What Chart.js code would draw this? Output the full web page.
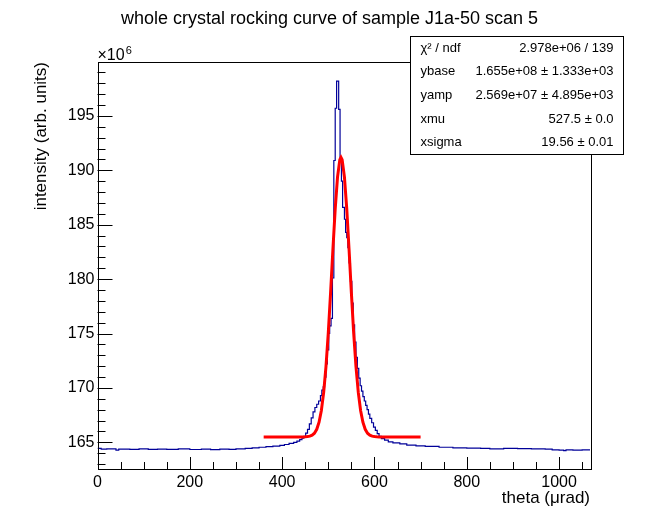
<!DOCTYPE html>
<html>
<head>
<meta charset="utf-8">
<script src="https://cdn.jsdelivr.net/npm/chart.js@4.4.1/dist/chart.umd.min.js"></script>
<style>
  html, body { margin: 0; padding: 0; background: #fff; }
  #wrap { width: 656px; height: 522px; position: relative; }
</style>
</head>
<body>
<div id="wrap"><canvas id="c" width="656" height="522"></canvas></div>
<script>
// ---- data (intensity in units of 1e6) ----
const chartTitle = 'whole crystal rocking curve of sample J1a-50 scan 5';
const xTitle = 'theta (\u03bcrad)';
const yTitle = 'intensity (arb. units)';
const xMin = 0, xMax = 1067;
const yMin = 162.55, yMax = 199.95;
const xTicks = [0, 200, 400, 600, 800, 1000];
const yTicks = [165, 170, 175, 180, 185, 190, 195];
const xMinorStep = 50;
const yMinorStep = 1;

// measured histogram: bin left edge (urad) and content
const histX = [0, 8, 20, 40, 46, 70, 90, 110, 130, 150, 175, 200, 225, 245, 265, 285, 300, 320, 335, 350,
  365, 380, 395, 405, 415, 425, 432, 438, 443, 447, 451, 455, 459, 463, 467, 471, 475, 479, 483, 486,
  489, 492, 495, 498, 501, 503, 506, 509, 512, 515, 518, 522.5, 525.5, 528.5, 531, 535, 537.5, 540, 542.5, 545,
  548, 551, 554, 557, 560, 563, 566, 569, 572, 575, 578, 581, 584, 587, 590, 594, 598, 602, 606, 610,
  615, 622, 630, 640, 655, 670, 690, 710, 740, 770, 800, 830, 850, 880, 910, 940, 970, 985, 1000, 1010,
  1015, 1030, 1050, 1067];
const histY = [164.45, 164.38, 164.40, 164.28, 164.38, 164.36, 164.40, 164.35, 164.38, 164.36, 164.40, 164.34, 164.37, 164.33, 164.38, 164.36, 164.40, 164.45, 164.50, 164.55,
  164.60, 164.65, 164.72, 164.80, 164.90, 165.00, 165.12, 165.25, 165.38, 165.55, 165.85, 166.20, 166.70, 167.25, 167.80, 168.20, 168.50, 168.80, 169.30, 169.80,
  170.10, 171.00, 172.20, 173.50, 175.00, 175.70, 176.40, 180.10, 190.90, 195.70, 198.20, 195.60, 191.10, 189.00, 186.60, 185.50, 184.30, 183.80, 182.90, 181.50,
  179.80, 177.80, 175.80, 174.20, 172.80, 171.80, 170.90, 170.20, 169.70, 169.20, 168.80, 168.40, 168.00, 167.60, 167.20, 166.80, 166.40, 166.10, 165.80, 165.55,
  165.35, 165.20, 165.05, 164.95, 164.85, 164.75, 164.68, 164.62, 164.55, 164.50, 164.46, 164.45, 164.40, 164.44, 164.42, 164.40, 164.38, 164.30, 164.28, 164.24,
  164.30, 164.28, 164.30, 164.30];

// fit curve as drawn (red)
const fitX = [360, 440, 445, 450, 455, 460, 465, 470, 475, 480, 485, 490, 495, 500, 505, 510, 515, 520, 525, 527.5,
  530, 535, 540, 545, 550, 555, 560, 565, 570, 575, 580, 585, 590, 595, 600, 605, 610, 615, 700];
const fitY = [165.50, 165.50, 165.50, 165.51, 165.53, 165.57, 165.66, 165.84, 166.20, 166.85, 167.93, 169.59, 171.96, 175.06, 178.76, 182.72, 186.45, 189.37, 190.98, 191.19,
  190.98, 189.37, 186.45, 182.72, 178.76, 175.06, 171.96, 169.59, 167.93, 166.85, 166.20, 165.84, 165.66, 165.57, 165.53, 165.51, 165.50, 165.50, 165.50];

const statLabels = ['\u03c7\u00b2 / ndf', 'ybase', 'yamp', 'xmu', 'xsigma'];
const statValues = ['2.978e+06 / 139', '1.655e+08 \u00b1 1.333e+03', '2.569e+07 \u00b1 4.895e+03', '527.5 \u00b1 0.0', '19.56 \u00b1 0.01'];
const yExponent = '6';

const FONT = '"Liberation Sans", Arial, Helvetica, sans-serif';

const rootStyle = {
  id: 'rootStyle',
  afterDraw(chart) {
    const { ctx, chartArea: a, scales: { x, y } } = chart;
    ctx.save();
    ctx.strokeStyle = '#000';
    ctx.lineWidth = 1;
    // frame
    ctx.strokeRect(Math.round(a.left) + 0.5, Math.round(a.top) + 0.5,
      Math.round(a.right - a.left), Math.round(a.bottom - a.top));
    // ticks (pointing inwards)
    ctx.beginPath();
    for (let v = xMin; v <= xMax; v += xMinorStep) {
      const px = Math.round(x.getPixelForValue(v)) + 0.5;
      const len = xTicks.includes(v) ? 12 : 7;
      ctx.moveTo(px, a.bottom); ctx.lineTo(px, a.bottom - len);
    }
    for (let v = Math.ceil(yMin); v <= yMax; v += yMinorStep) {
      const py = Math.round(y.getPixelForValue(v)) + 0.5;
      const len = yTicks.includes(v) ? 15 : 8;
      ctx.moveTo(a.left, py); ctx.lineTo(a.left + len, py);
    }
    ctx.stroke();

    ctx.fillStyle = '#000';
    // title
    ctx.font = '18px ' + FONT;
    ctx.textAlign = 'center';
    ctx.textBaseline = 'alphabetic';
    ctx.fillText(chartTitle, 329.5, 24);
    // exponent label
    ctx.textAlign = 'left';
    ctx.font = '16px ' + FONT;
    ctx.fillText('\u00d710', a.left, 60);
    const w = ctx.measureText('\u00d710').width;
    ctx.font = '11px ' + FONT;
    ctx.fillText(yExponent, a.left + w + 1, 54);

    // stats box
    const bx = 410.5, by = 36.5, bw = 213, bh = 118;
    ctx.fillStyle = '#fff';
    ctx.fillRect(bx, by, bw, bh);
    ctx.strokeRect(bx, by, bw, bh);
    ctx.fillStyle = '#000';
    ctx.font = '13px ' + FONT;
    ctx.textBaseline = 'middle';
    const rowH = bh / statLabels.length;
    statLabels.forEach((lab, i) => {
      const cy = by + rowH * (i + 0.5);
      ctx.textAlign = 'left';
      ctx.fillText(lab, bx + 10, cy);
      ctx.textAlign = 'right';
      ctx.fillText(statValues[i], bx + bw - 10, cy);
    });
    ctx.restore();
  }
};

new Chart(document.getElementById('c'), {
  type: 'line',
  data: {
    datasets: [
      {
        label: 'data',
        data: histX.map((v, i) => ({ x: v, y: histY[i] })),
        borderColor: '#000099',
        borderWidth: 1.2,
        stepped: 'before',
        pointRadius: 0,
        fill: false,
        order: 2
      },
      {
        label: 'fit',
        data: fitX.map((v, i) => ({ x: v, y: fitY[i] })),
        borderColor: '#ff0000',
        borderWidth: 3,
        tension: 0,
        pointRadius: 0,
        fill: false,
        order: 1
      }
    ]
  },
  options: {
    responsive: false,
    animation: false,
    devicePixelRatio: 1,
    layout: { padding: { top: 62, right: 66, left: 0, bottom: 0 } },
    plugins: { legend: { display: false }, tooltip: { enabled: false }, title: { display: false } },
    scales: {
      x: {
        type: 'linear', min: xMin, max: xMax,
        grid: { display: false, drawTicks: false },
        border: { display: false },
        afterBuildTicks: s => { s.ticks = xTicks.map(v => ({ value: v })); },
        afterFit: s => { s.height = 53; },
        ticks: { color: '#000', font: { family: FONT, size: 16 }, padding: 4, maxRotation: 0, autoSkip: false,
          callback: v => String(v) },
        title: { display: true, text: xTitle, align: 'end', color: '#000', font: { family: FONT, size: 17 }, padding: { top: 0, bottom: 13 } }
      },
      y: {
        type: 'linear', min: yMin, max: yMax,
        grid: { display: false, drawTicks: false },
        border: { display: false },
        afterBuildTicks: s => { s.ticks = yTicks.map(v => ({ value: v })); },
        afterFit: s => { s.width = 97.5; },
        ticks: { color: '#000', font: { family: FONT, size: 16 }, padding: 3, autoSkip: false,
          callback: v => String(v) },
        title: { display: true, text: yTitle, align: 'end', color: '#000', font: { family: FONT, size: 17 }, padding: { top: 31, bottom: 0 } }
      }
    }
  },
  plugins: [rootStyle]
});
</script>
</body>
</html>
